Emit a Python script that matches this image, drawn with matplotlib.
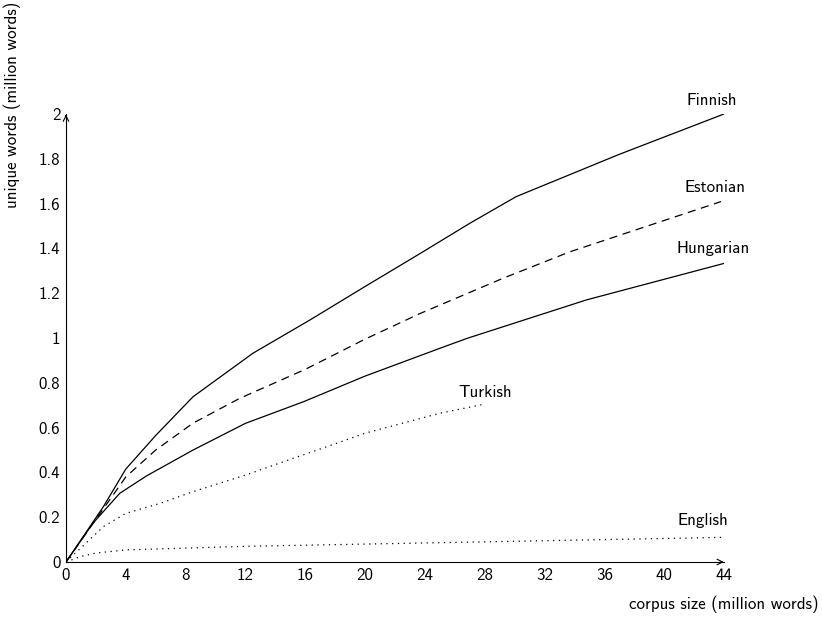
import matplotlib
matplotlib.use("Agg")
import matplotlib.pyplot as plt

plt.rcParams['font.family'] = ['cmss10', 'DejaVu Sans']
plt.rcParams['axes.formatter.use_mathtext'] = True

# corpus size (million words) vs unique words (million words)
x_finnish = [0, 2.5, 4, 6, 8.5, 12.5, 16.3, 20, 23.7, 27, 30.1, 37, 44]
finnish = [0, 0.247, 0.415, 0.565, 0.738, 0.932, 1.08, 1.23, 1.378, 1.512, 1.631, 1.82, 2.0]

x_estonian = [0, 2, 4, 6, 8.5, 11.6, 16, 20, 23.7, 29.2, 33.7, 43.8]
estonian = [0, 0.19, 0.38, 0.50, 0.62, 0.73, 0.86, 0.995, 1.11, 1.266, 1.385, 1.609]

x_hungarian = [0, 1.8, 3.6, 5.4, 8.5, 12, 15.9, 20, 25, 26.8, 34.8, 44]
hungarian = [0, 0.173, 0.307, 0.385, 0.50, 0.619, 0.716, 0.83, 0.954, 0.998, 1.17, 1.333]

x_turkish = [0, 2.5, 4, 6.3, 8.5, 12, 15.2, 18.1, 20, 25, 28]
turkish = [0, 0.158, 0.217, 0.262, 0.314, 0.388, 0.463, 0.53, 0.575, 0.664, 0.705]

x_english = [0, 1, 2, 4, 8, 12, 20, 28, 36, 44]
english = [0, 0.025, 0.04, 0.054, 0.062, 0.07, 0.08, 0.09, 0.10, 0.11]

xticks = [0, 4, 8, 12, 16, 20, 24, 28, 32, 36, 40, 44]
yticks = [0, 0.2, 0.4, 0.6, 0.8, 1, 1.2, 1.4, 1.6, 1.8, 2]
ytick_labels = ['0', '0.2', '0.4', '0.6', '0.8', '1', '1.2', '1.4', '1.6', '1.8', '2']

fig = plt.figure(figsize=(8.22, 6.17), dpi=100)
ax = fig.add_axes([66 / 822, 55 / 617, 658 / 822, 448 / 617])

lw = 0.9
ax.plot(x_finnish, finnish, color='black', lw=lw)
ax.plot(x_estonian, estonian, color='black', lw=lw, linestyle=(0, (6.5, 4.5)))
ax.plot(x_hungarian, hungarian, color='black', lw=lw)
ax.plot(x_turkish, turkish, color='black', lw=lw, linestyle=(0, (1, 3.6)))
ax.plot(x_english, english, color='black', lw=lw, linestyle=(0, (1, 3.6)))

fs = 12.2
ax.text(43.2, 2.06, 'Finnish', ha='center', va='center', fontsize=fs)
ax.text(43.4, 1.67, 'Estonian', ha='center', va='center', fontsize=fs)
ax.text(43.3, 1.40, 'Hungarian', ha='center', va='center', fontsize=fs)
ax.text(28.0, 0.755, 'Turkish', ha='center', va='center', fontsize=fs)
ax.text(42.6, 0.185, 'English', ha='center', va='center', fontsize=fs)

ax.set_xlim(0, 44)
ax.set_ylim(0, 2)
ax.set_xticks(xticks)
ax.set_xticklabels([str(t) for t in xticks])
ax.set_yticks(yticks)
ax.set_yticklabels(ytick_labels)
ax.tick_params(length=0, labelsize=fs, pad=4)

for side in ['top', 'right']:
    ax.spines[side].set_visible(False)
ax.spines['left'].set_linewidth(0.8)
ax.spines['bottom'].set_linewidth(0.8)

# arrow heads at axis ends
ax.annotate('', xy=(1.004, 0), xytext=(0.99, 0), xycoords='axes fraction',
            arrowprops=dict(arrowstyle='->', lw=0.8, color='black'), annotation_clip=False)
ax.annotate('', xy=(0, 1.005), xytext=(0, 0.99), xycoords='axes fraction',
            arrowprops=dict(arrowstyle='->', lw=0.8, color='black'), annotation_clip=False)

fig.text(12 / 822, 1 - 105 / 617, 'unique words (million words)', rotation=90,
         ha='center', va='center', fontsize=fs)
fig.text(724 / 822, 1 - 604 / 617, 'corpus size (million words)',
         ha='center', va='center', fontsize=fs)

fig.savefig('out.png', dpi=100)
